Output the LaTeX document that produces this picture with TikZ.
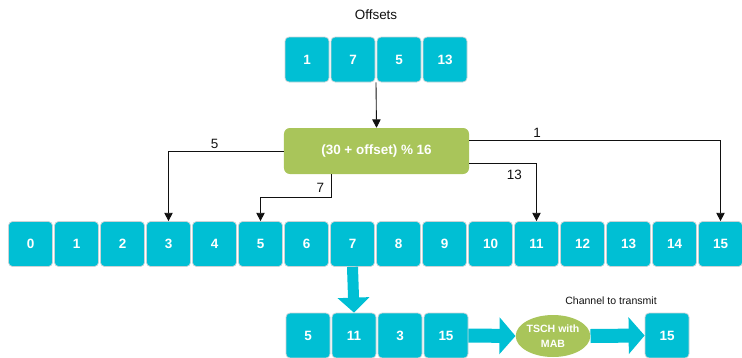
\documentclass[tikz,border=0pt]{standalone}
\usepackage{fontspec}
\setmainfont{Liberation Sans}
\usetikzlibrary{arrows.meta,positioning,shapes,calc}
\definecolor{cell}{HTML}{00BFD4}
\definecolor{cellEdge}{HTML}{CBD3D6}
\definecolor{mab}{HTML}{A9C55A}
\definecolor{ink}{HTML}{111111}
\tikzset{
  cellbox/.style={draw=cellEdge, line width=0.6pt, rounded corners=3.5pt, fill=cell,
                  minimum width=1.32cm, minimum height=1.35cm, inner sep=0pt,
                  font=\fontsize{11.5}{13}\selectfont\bfseries\color{white}},
  calcbox/.style={rounded corners=5pt, fill=mab, minimum width=5.55cm, minimum height=1.38cm,
                  font=\fontsize{11.5}{13}\selectfont\bfseries\color{white}, align=center},
  banditnode/.style={ellipse, fill=mab, minimum width=2.22cm, minimum height=1.26cm, inner sep=0pt,
                     font=\fontsize{9}{13}\selectfont\bfseries\color{white}, align=center},
  link/.style={-{Triangle[length=2.5mm,width=2.5mm]}, line width=0.75pt, draw=ink},
  lbl/.style={font=\fontsize{11.5}{13}\selectfont\color{ink}, inner sep=2pt},
  fatdown/.style={draw=cell, line width=0.33cm, -{Triangle[length=0.45cm,width=0.93cm]}},
  fatright/.style={draw=cell, line width=0.42cm, -{Triangle[length=0.48cm,width=1.08cm]}}
}
\begin{document}
\begin{tikzpicture}[x=0.03cm, y=-0.03cm]
  \useasboundingbox (0,0) rectangle (742,357);

  % offsets
  \node[lbl] (title) at (376,15) {Offsets};
  \foreach \v [count=\k] in {1,7,5,13}
    \node[cellbox] (o\k) at ({261+46*\k},59.5) {\v};

  \node[calcbox] (calc) at (376.5,151) {(30 + offset) \% 16};

  % channels 0..15
  \foreach \i in {0,...,15}
    \node[cellbox] (c\i) at ({30.5+46*\i},244) {\i};

  % hopping sequence
  \foreach \v [count=\k] in {5,11,3,15}
    \node[cellbox] (s\k) at ({262+46*\k},335.5) {\v};

  \node[banditnode] (mab) at (553,336) {TSCH with\\MAB};
  \node[cellbox] (out) at (667,335.5) {15};
  \node[font=\fontsize{9}{11}\selectfont\color{ink}] (chan) at (611,301) {Channel to transmit};

  \draw[link] ($(o2.south)!0.5!(o3.south)$) -- (calc.north);
  \draw[link] (calc.west) -| node[lbl, above, pos=0.3]{5} (c3.north);
  \draw[link] ($(calc.south)+(-45,0)$) -- node[lbl, left=4pt, pos=0.6]{7} ++(0,23) -| (c5.north);
  \draw[link] ($(calc.east)+(0,-11)$) -| node[lbl, above, pos=0.135]{1} (c15.north);
  \draw[link] ($(calc.east)+(0,12)$) -| node[lbl, below=4pt, pos=0.335]{13} (c11.north);

  \draw[fatdown] (c7.south) -- (s2.north);
  \draw[fatright] (s4.east) -- (mab.west);
  \draw[fatright] (mab.east) -- (out.west);
\end{tikzpicture}
\end{document}
